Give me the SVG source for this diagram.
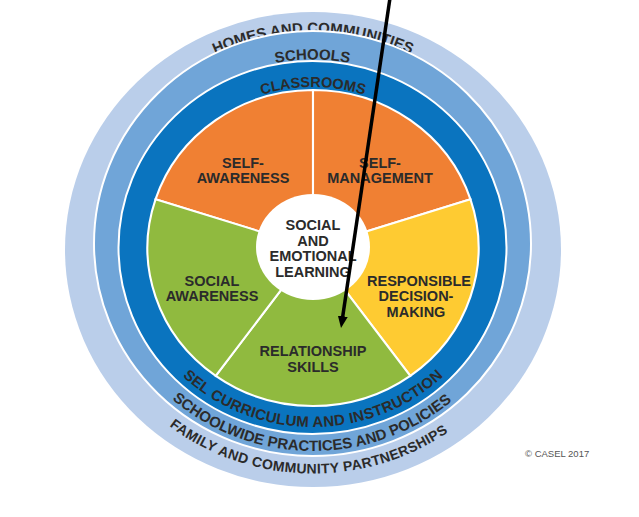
<svg xmlns="http://www.w3.org/2000/svg" width="639" height="517" viewBox="0 0 639 517">
<style>
.lbl{font-family:"Liberation Sans",Arial,sans-serif;font-weight:bold;font-size:14.5px;fill:#2b2b2b;text-anchor:middle}
.arc{font-family:"Liberation Sans",Arial,sans-serif;font-weight:bold;font-size:15px;fill:#2b2b2b;text-anchor:middle}
.sep{stroke:#ffffff;stroke-width:2}
.copy{font-family:"Liberation Sans",Arial,sans-serif;font-size:9.5px;fill:#555555}
</style>
<defs>
<path id="pHomes" d="M85,249.5 A228,216.5 0 0 1 541,249.5"/>
<path id="pSchools" d="M123,243.5 A189.5,184 0 0 1 502,243.5"/>
<path id="pClass" d="M146,247.5 A167,160.5 0 0 1 480,247.5"/>
<path id="pSel" d="M126,247.5 A187,179.5 0 0 0 500,247.5"/>
<path id="pSchoolwide" d="M99.5,243.5 A213.5,207.5 0 0 0 526.5,243.5"/>
<path id="pFamily" d="M79.5,249.5 A233.5,224 0 0 0 546.5,249.5"/>
<marker id="arrowHead" viewBox="0 0 12 10" refX="4" refY="5" markerWidth="12" markerHeight="10" markerUnits="userSpaceOnUse" orient="auto">
<path d="M0,0 L12,5 L0,10 Z" fill="#000000"/>
</marker>
</defs>
<rect width="639" height="517" fill="#ffffff"/>

<g id="ring-homes">
<ellipse cx="313" cy="249.5" rx="248" ry="237.5" fill="#BACEEA"/>
<text class="arc"><textPath href="#pHomes" startOffset="50%">HOMES AND COMMUNITIES</textPath></text>
<text class="arc" style="font-size:14px;letter-spacing:0.35px"><textPath href="#pFamily" startOffset="49.3%">FAMILY AND COMMUNITY PARTNERSHIPS</textPath></text>
</g>

<g id="ring-schools">
<ellipse cx="312.5" cy="243.5" rx="218.5" ry="212.5" fill="#70A5D8" stroke="#ffffff" stroke-width="2"/>
<text class="arc"><textPath href="#pSchools" startOffset="50%">SCHOOLS</textPath></text>
<text class="arc"><textPath href="#pSchoolwide" startOffset="49.8%">SCHOOLWIDE PRACTICES AND POLICIES</textPath></text>
</g>

<g id="ring-classrooms">
<ellipse cx="312.5" cy="247.5" rx="194" ry="186.5" fill="#0A74BF" stroke="#ffffff" stroke-width="2"/>
<text class="arc" style="font-size:14.5px"><textPath href="#pClass" startOffset="50%">CLASSROOMS</textPath></text>
<text class="arc" style="letter-spacing:0.3px"><textPath href="#pSel" startOffset="50%">SEL CURRICULUM AND INSTRUCTION</textPath></text>
</g>

<g id="wedges" transform="translate(313,248) scale(1.0475,1)">
<g id="self-awareness">
<path d="M0,0 L-150.27,-48.82 A158,158 0 0 1 0,-158 Z" fill="#F08033" class="sep"/>
</g>
<g id="self-management">
<path d="M0,0 L0,-158 A158,158 0 0 1 150.27,-48.82 Z" fill="#F08033" class="sep"/>
</g>
<g id="responsible-decision-making">
<path d="M0,0 L150.27,-48.82 A158,158 0 0 1 92.87,127.82 Z" fill="#FECB32" class="sep"/>
</g>
<g id="relationship-skills">
<path d="M0,0 L92.87,127.82 A158,158 0 0 1 -92.87,127.82 Z" fill="#90BA3F" class="sep"/>
</g>
<g id="social-awareness">
<path d="M0,0 L-92.87,127.82 A158,158 0 0 1 -150.27,-48.82 Z" fill="#90BA3F" class="sep"/>
</g>
</g>

<g id="wedge-labels">
<text class="lbl" x="243" y="168">SELF-</text>
<text class="lbl" x="243" y="183">AWARENESS</text>
<text class="lbl" x="380" y="168">SELF-</text>
<text class="lbl" x="380" y="183">MANAGEMENT</text>
<text class="lbl" x="419" y="286">RESPONSIBLE</text>
<text class="lbl" x="416" y="301">DECISION-</text>
<text class="lbl" x="416" y="317">MAKING</text>
<text class="lbl" x="313" y="356">RELATIONSHIP</text>
<text class="lbl" x="313" y="372">SKILLS</text>
<text class="lbl" x="212" y="286">SOCIAL</text>
<text class="lbl" x="212" y="301">AWARENESS</text>
</g>

<g id="sel-center">
<ellipse cx="313" cy="247" rx="57" ry="53" fill="#ffffff"/>
<text class="lbl" x="313" y="230">SOCIAL</text>
<text class="lbl" x="313" y="245.5">AND</text>
<text class="lbl" x="313" y="261">EMOTIONAL</text>
<text class="lbl" x="313" y="276.5">LEARNING</text>
</g>

<g id="connectors">
<line x1="390" y1="-2" x2="342.2" y2="320.1" stroke="#000000" stroke-width="3.5" marker-end="url(#arrowHead)"/>
</g>

<text class="copy" x="525" y="457">© CASEL 2017</text>
</svg>
